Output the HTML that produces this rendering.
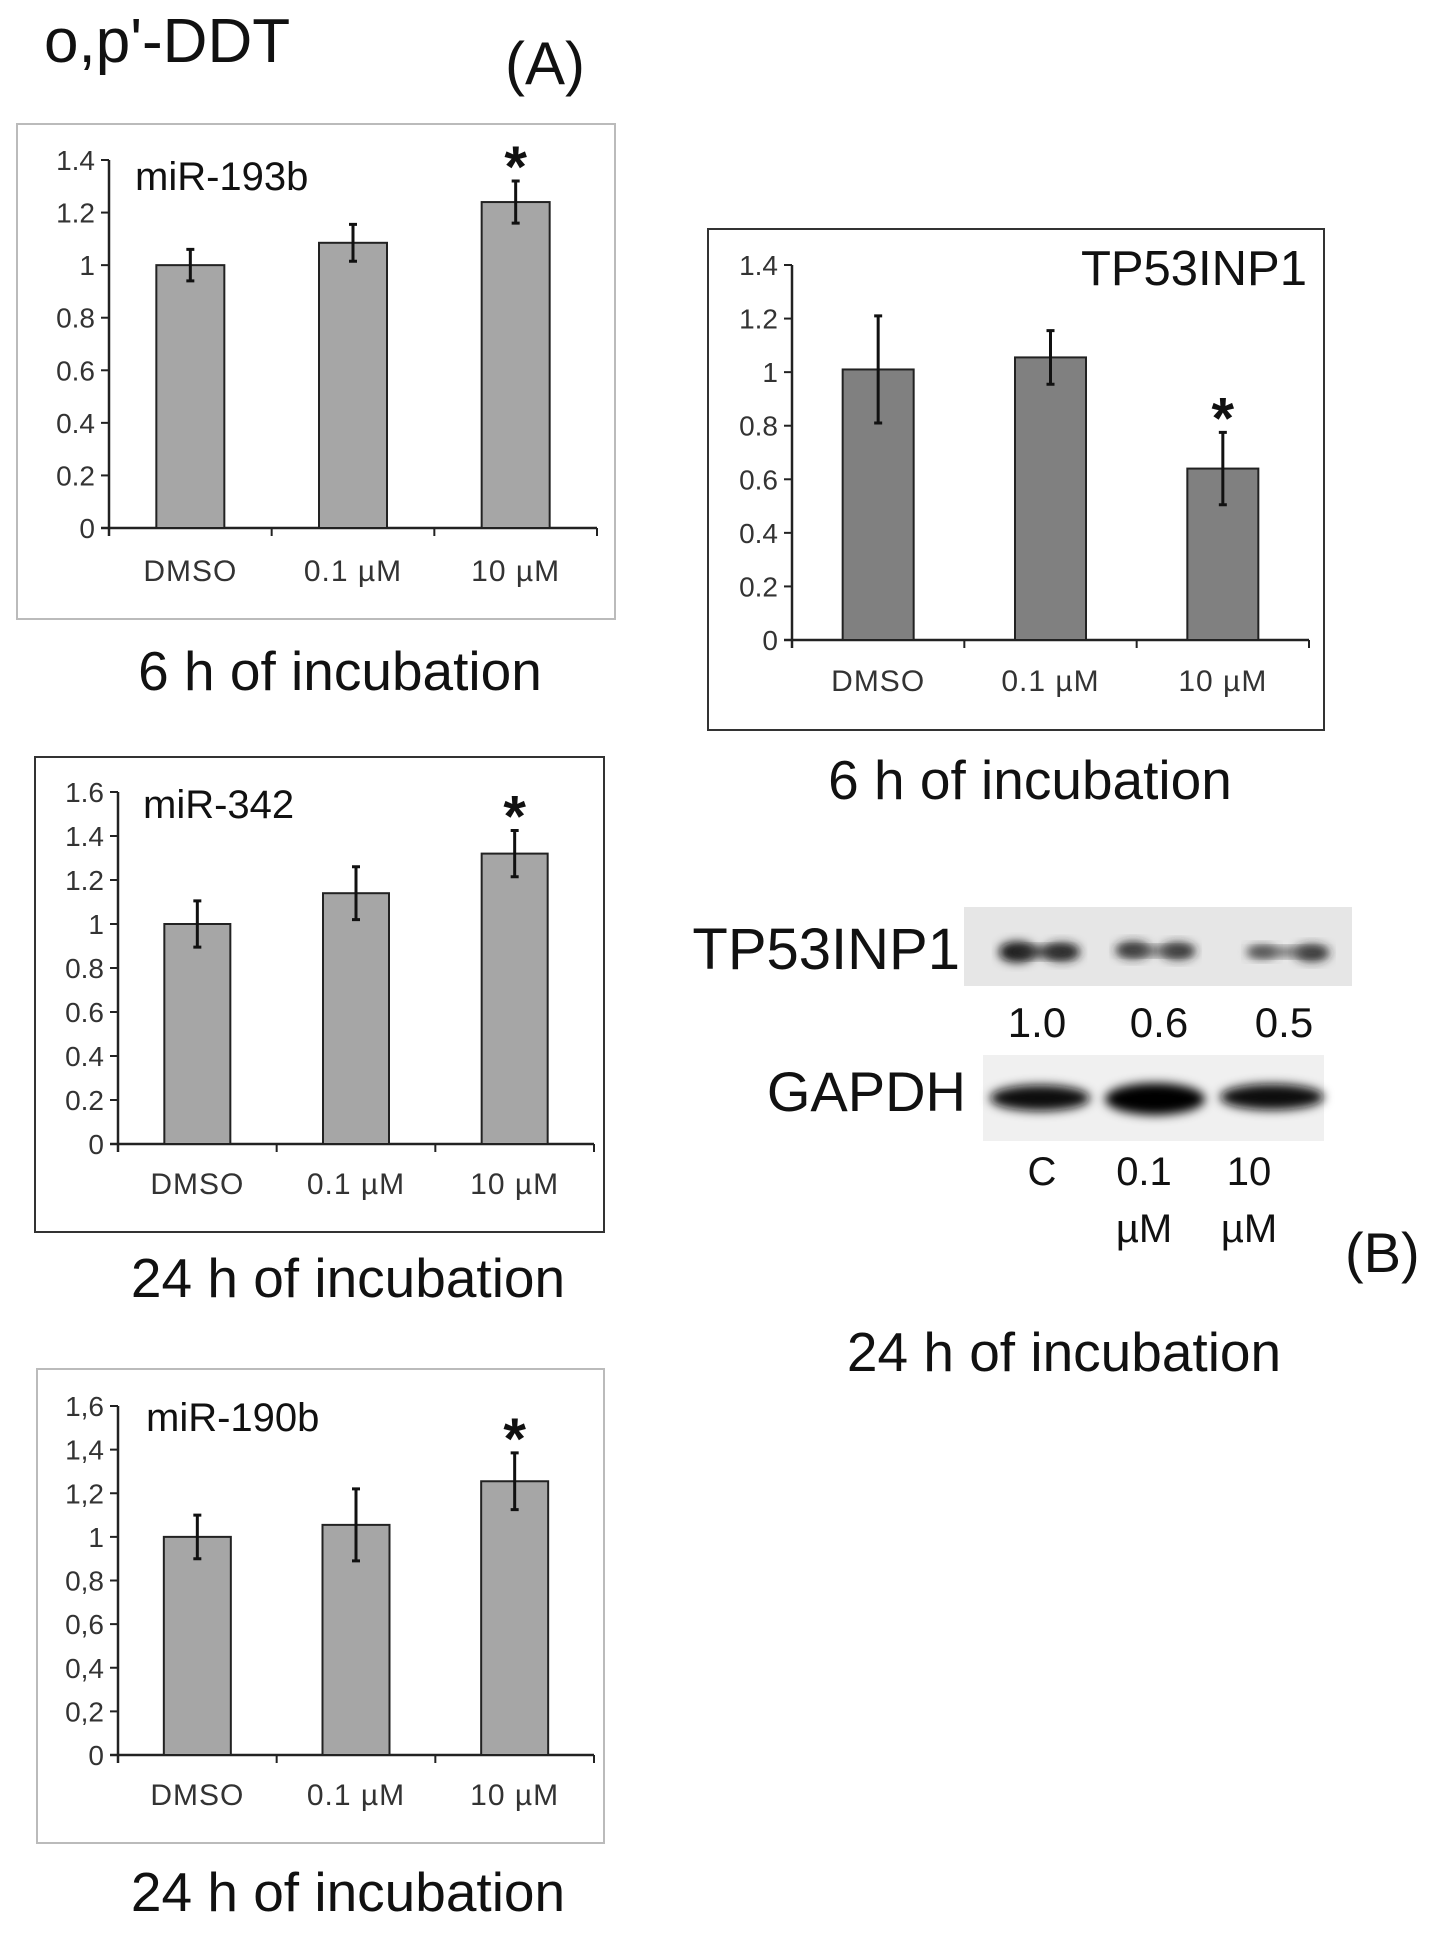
<!DOCTYPE html>
<html><head><meta charset="utf-8"><style>
html,body{margin:0;padding:0;background:#fff;width:1440px;height:1951px;overflow:hidden}
svg{display:block}
text{font-family:"Liberation Sans",sans-serif}
</style></head><body>
<svg id="fig" width="1440" height="1951" viewBox="0 0 1440 1951">
<defs>
<filter id="blur4" x="-20%" y="-50%" width="140%" height="200%"><feGaussianBlur stdDeviation="5"/></filter>
</defs>
<text x="44" y="62" font-size="62" fill="#111">o,p'-DDT</text>
<text x="505" y="84" font-size="60" fill="#111">(A)</text>

<g>
<text x="960" y="969" font-size="58" text-anchor="end" fill="#111">TP53INP1</text>
<rect x="964" y="907" width="388" height="79" fill="#e6e6e6"/>
<ellipse cx="1017" cy="952" rx="18" ry="10" fill="#111" filter="url(#blur4)"/>
<ellipse cx="1062" cy="952" rx="18" ry="9" fill="#222" filter="url(#blur4)"/>
<ellipse cx="1040" cy="952" rx="35" ry="5" fill="#333" filter="url(#blur4)"/>
<ellipse cx="1133" cy="950" rx="17" ry="8" fill="#222" filter="url(#blur4)"/>
<ellipse cx="1178" cy="951" rx="17" ry="8" fill="#222" filter="url(#blur4)"/>
<ellipse cx="1155" cy="951" rx="38" ry="4" fill="#555" filter="url(#blur4)"/>
<ellipse cx="1262" cy="952" rx="15" ry="6" fill="#444" filter="url(#blur4)"/>
<ellipse cx="1312" cy="953" rx="17" ry="8" fill="#222" filter="url(#blur4)"/>
<ellipse cx="1287" cy="952" rx="40" ry="4" fill="#555" filter="url(#blur4)"/>
<text x="1037" y="1037" font-size="42" text-anchor="middle" fill="#111">1.0</text>
<text x="1159" y="1037" font-size="42" text-anchor="middle" fill="#111">0.6</text>
<text x="1284" y="1037" font-size="42" text-anchor="middle" fill="#111">0.5</text>
<text x="966" y="1111" font-size="56" text-anchor="end" fill="#111">GAPDH</text>
<rect x="983" y="1055" width="341" height="86" fill="#f0f0f0"/>
<ellipse cx="1040" cy="1098" rx="50" ry="13" fill="#111" filter="url(#blur4)"/>
<ellipse cx="1155" cy="1099" rx="50" ry="16" fill="#000" filter="url(#blur4)"/>
<ellipse cx="1272" cy="1097" rx="52" ry="13" fill="#111" filter="url(#blur4)"/>
<text x="1042" y="1185" font-size="40" text-anchor="middle" fill="#111">C</text>
<text x="1144" y="1185" font-size="40" text-anchor="middle" fill="#111">0.1</text>
<text x="1249" y="1185" font-size="40" text-anchor="middle" fill="#111">10</text>
<text x="1144" y="1242" font-size="40" text-anchor="middle" fill="#111">µM</text>
<text x="1249" y="1242" font-size="40" text-anchor="middle" fill="#111">µM</text>
<text x="1345" y="1272" font-size="56" fill="#111">(B)</text>
<text x="1064" y="1371" font-size="55" text-anchor="middle" fill="#111">24 h of incubation</text>
</g>
</svg>
<script>
const categories = ["DMSO", "0.1 µM", "10 µM"];
const c1Values = [1.0, 1.085, 1.24];
const c1Errors = [0.06, 0.07, 0.08];
const c1Ticks = ["0", "0.2", "0.4", "0.6", "0.8", "1", "1.2", "1.4"];
const c2Values = [1.01, 1.055, 0.64];
const c2Errors = [0.2, 0.1, 0.135];
const c2Ticks = ["0", "0.2", "0.4", "0.6", "0.8", "1", "1.2", "1.4"];
const c3Values = [1.0, 1.14, 1.32];
const c3Errors = [0.105, 0.12, 0.105];
const c3Ticks = ["0", "0.2", "0.4", "0.6", "0.8", "1", "1.2", "1.4", "1.6"];
const c4Values = [1.0, 1.055, 1.255];
const c4Errors = [0.1, 0.165, 0.13];
const c4Ticks = ["0", "0,2", "0,4", "0,6", "0,8", "1", "1,2", "1,4", "1,6"];
const sigFlags = [false, false, true];

const NS = "http://www.w3.org/2000/svg";
const svg = document.getElementById("fig");
function mk(tag, attrs, parent) {
  const e = document.createElementNS(NS, tag);
  for (const k in attrs) e.setAttribute(k, attrs[k]);
  parent.appendChild(e);
  return e;
}
function drawChart(cfg, values, errors, ticks) {
  const g = mk("g", {}, svg);
  
  
  const box = mk("rect", {x: cfg.box[0], y: cfg.box[1], width: cfg.box[2], height: cfg.box[3], fill: "#fff", stroke: cfg.boxStroke, "stroke-width": 2}, g);
  
  
  const yMax = cfg.yMax;
  const y = v => cfg.y0 - (v / yMax) * (cfg.y0 - cfg.yTop);
  const catW = (cfg.xEnd - cfg.ax) / categories.length;
  const xc = i => cfg.ax + catW * (i + 0.5);
  const ya = mk("line", {x1: cfg.ax, y1: cfg.yTop, x2: cfg.ax, y2: cfg.y0 + 8, stroke: "#222", "stroke-width": 2.5}, g);
  
  
  ticks.forEach((t, i) => {
    const v = i * yMax / (ticks.length - 1);
    mk("line", {x1: cfg.ax - 8, y1: y(v), x2: cfg.ax, y2: y(v), stroke: "#222", "stroke-width": 2}, g);
    const tl = mk("text", {x: cfg.ax - 14, y: y(v) + 10, "font-size": 28, "text-anchor": "end", fill: "#333"}, g);
    tl.textContent = t;
    
    
  });
  const xa = mk("line", {x1: cfg.ax - 8, y1: cfg.y0, x2: cfg.xEnd, y2: cfg.y0, stroke: "#222", "stroke-width": 2.5}, g);
  
  
  for (let i = 1; i <= categories.length; i++) {
    mk("line", {x1: cfg.ax + catW * i, y1: cfg.y0, x2: cfg.ax + catW * i, y2: cfg.y0 + 8, stroke: "#222", "stroke-width": 2}, g);
  }
  categories.forEach((c, i) => {
    const bar = mk("rect", {x: xc(i) - cfg.bw / 2, y: y(values[i]), width: cfg.bw, height: cfg.y0 - y(values[i]), fill: cfg.fill, stroke: "#222", "stroke-width": 2}, g);
    
    
    const eb = mk("path", {d: `M${xc(i)},${y(values[i] + errors[i])}V${y(values[i] - errors[i])}M${xc(i) - 4},${y(values[i] + errors[i])}h8M${xc(i) - 4},${y(values[i] - errors[i])}h8`, stroke: "#111", "stroke-width": 3, fill: "none"}, g);
    
    
    if (sigFlags[i]) {
      const s = mk("text", {x: xc(i), y: y(values[i] + errors[i]) + 6, "font-size": 58, "font-weight": "bold", "text-anchor": "middle", fill: "#111"}, g);
      s.textContent = "*";
      
      
    }
    const xl = mk("text", {x: xc(i), y: cfg.xlabY, "font-size": 30, "text-anchor": "middle", fill: "#333", "letter-spacing": 1}, g);
    xl.textContent = c;
    
    
  });
  const lab = mk("text", {x: cfg.label[0], y: cfg.label[1], "font-size": cfg.labelSize, "text-anchor": cfg.labelAnchor, fill: "#111"}, g);
  lab.textContent = cfg.title;
  
  
  const cap = mk("text", {x: cfg.caption[0], y: cfg.caption[1], "font-size": 55, "text-anchor": "middle", fill: "#111"}, g);
  cap.textContent = cfg.captionText;
  
  
}
drawChart({name: "chart-mir-193b", box: [17, 124, 598, 495], boxStroke: "#bbb", ax: 109, xEnd: 597, y0: 528, yTop: 160, yMax: 1.4, bw: 68, fill: "#a6a6a6", xlabY: 581, title: "miR-193b", label: [135, 190], labelSize: 40, labelAnchor: "start", caption: [340, 690], captionText: "6 h of incubation"}, c1Values, c1Errors, c1Ticks);
drawChart({name: "chart-tp53inp1", box: [708, 229, 616, 501], boxStroke: "#333", ax: 792, xEnd: 1309, y0: 640, yTop: 265, yMax: 1.4, bw: 71, fill: "#808080", xlabY: 691, title: "TP53INP1", label: [1307, 285], labelSize: 49, labelAnchor: "end", caption: [1030, 799], captionText: "6 h of incubation"}, c2Values, c2Errors, c2Ticks);
drawChart({name: "chart-mir-342", box: [35, 757, 569, 475], boxStroke: "#333", ax: 118, xEnd: 594, y0: 1144, yTop: 792, yMax: 1.6, bw: 66, fill: "#a6a6a6", xlabY: 1194, title: "miR-342", label: [143, 818], labelSize: 40, labelAnchor: "start", caption: [348, 1297], captionText: "24 h of incubation"}, c3Values, c3Errors, c3Ticks);
drawChart({name: "chart-mir-190b", box: [37, 1369, 567, 474], boxStroke: "#bbb", ax: 118, xEnd: 594, y0: 1755, yTop: 1406, yMax: 1.6, bw: 67, fill: "#a6a6a6", xlabY: 1805, title: "miR-190b", label: [146, 1431], labelSize: 40, labelAnchor: "start", caption: [348, 1911], captionText: "24 h of incubation"}, c4Values, c4Errors, c4Ticks);
</script>
</body></html>
